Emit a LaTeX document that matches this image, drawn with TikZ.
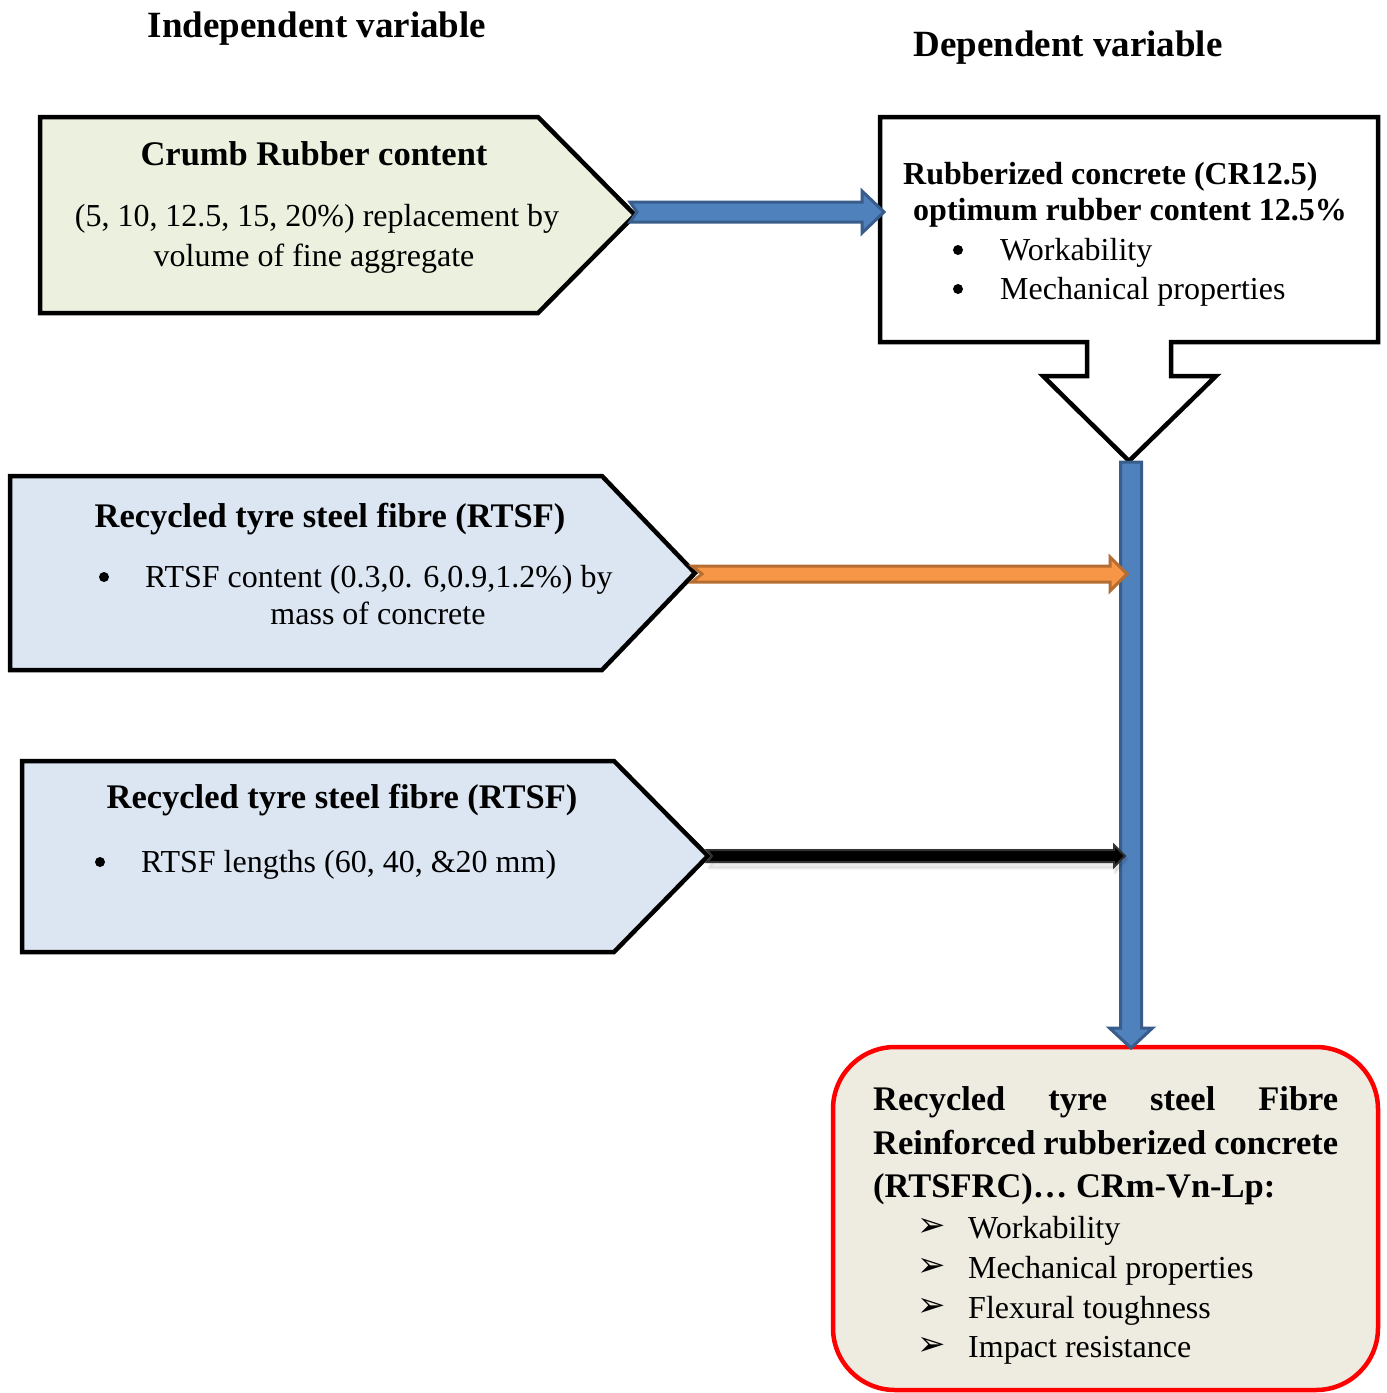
\documentclass[tikz,border=0pt]{standalone}
\usepackage{fontspec}
\setmainfont{Liberation Serif}
\newfontfamily\dejavu{DejaVu Sans}
\usetikzlibrary{calc}
\definecolor{boxgreen}{HTML}{EBF1DE}
\definecolor{boxblue}{HTML}{DCE6F2}
\definecolor{boxtan}{HTML}{EEECE1}
\definecolor{arrblue}{HTML}{4F81BD}
\definecolor{arrbluedk}{HTML}{385D8A}
\definecolor{arrorange}{HTML}{F79646}
\definecolor{arrorangedk}{HTML}{B66D31}
% horizontal block arrow: start, end, shaft half width, head half width, head length, notch, style
\newcommand\harrow[7]{\draw[#7] ($(#1)+(0,-#3)$) -- ($(#2)+(-#5,-#3)$) -- ($(#2)+(-#5,-#4)$) -- (#2) -- ($(#2)+(-#5,#4)$) -- ($(#2)+(-#5,#3)$) -- ($(#1)+(0,#3)$) -- ($(#1)+(#6,0)$) -- cycle;}
% vertical (downward) block arrow
\newcommand\varrow[6]{\draw[#6] ($(#1)+(-#3,0)$) -- ($(#2)+(-#3,-#5)$) -- ($(#2)+(-#4,-#5)$) -- (#2) -- ($(#2)+(#4,-#5)$) -- ($(#2)+(#3,-#5)$) -- ($(#1)+(#3,0)$) -- cycle;}
\begin{document}
\begin{tikzpicture}[x=1pt,y=-1pt,
  shapebox/.style={draw=black,line width=4.5pt,line join=miter},
  txt/.style={inner sep=0pt,font=\fontsize{32}{40}\selectfont},
  headtxt/.style={inner sep=0pt,font=\fontsize{34.5}{44}\selectfont\bfseries},
  subhead/.style={inner sep=0pt,font=\fontsize{32}{40}\selectfont\bfseries},
  titletxt/.style={inner sep=0pt,font=\fontsize{37}{44}\selectfont\bfseries},
  dotbullet/.style={circle,fill=black,inner sep=0pt,minimum size=10pt},
  arrbullet/.style={inner sep=0pt,font=\fontsize{34}{40}\dejavu},
  bluearrow/.style={fill=arrblue,draw=arrbluedk,line width=3pt,line join=miter},
  orangearrow/.style={fill=arrorange,draw=arrorangedk,line width=3pt,line join=miter},
  blackarrow/.style={fill=black,draw=black!80,line width=2pt,line join=miter},
  shadowarrow/.style={fill=black,opacity=0.08,draw=black,draw opacity=0.06,line width=3pt,line join=round}]
\useasboundingbox (0,0) rectangle (1387,1393);
\fill[white] (0,0) rectangle (1387,1393);

% titles
\node[titletxt,anchor=base] (tIndep) at (317,37) {Independent variable};
\node[titletxt,anchor=base] (tDep) at (1068,56) {Dependent variable};

% box 1: crumb rubber
\draw[shapebox,fill=boxgreen] (40,117) -- (538,117) -- (635,215) -- (538,313) -- (40,313) -- cycle;
\node[headtxt,anchor=base] (cr1) at (314,165) {Crumb Rubber content};
\node[txt,anchor=base] (cr2) at (317,226) {(5, 10, 12.5, 15, 20\%) replacement by};
\node[txt,anchor=base] (cr3) at (314,266) {volume of fine aggregate};

% box 2: rubberized concrete with down-arrow callout
\draw[shapebox,fill=white] (880,117) -- (1378,117) -- (1378,342) -- (1171,342) -- (1171,376) -- (1216,376) -- (1129,461) -- (1043,376) -- (1087,376) -- (1087,342) -- (880,342) -- cycle;
\node[subhead,anchor=base west] (rc1) at (903,184) {Rubberized concrete (CR12.5)};
\node[subhead,anchor=base west] (rc2) at (913,220) {optimum rubber content 12.5\%};
\node[dotbullet] (rcb1) at (958,250) {};
\node[txt,anchor=base west] (rc3) at (1000,260) {Workability};
\node[dotbullet] (rcb2) at (958,289) {};
\node[txt,anchor=base west] (rc4) at (1000,299) {Mechanical properties};

% box 3: RTSF content
\draw[shapebox,fill=boxblue] (10,476) -- (602,476) -- (695,573) -- (602,670) -- (10,670) -- cycle;
\node[headtxt,anchor=base] (fc1) at (330,527) {Recycled tyre steel fibre (RTSF)};
\node[dotbullet] (fcb) at (104,577) {};
\node[txt,anchor=base west] (fc2) at (145,587) {RTSF content (0.3,0. 6,0.9,1.2\%) by};
\node[txt,anchor=base] (fc3) at (378,624) {mass of concrete};

% box 4: RTSF lengths
\draw[shapebox,fill=boxblue] (22,761) -- (614,761) -- (708,856) -- (614,952) -- (22,952) -- cycle;
\node[headtxt,anchor=base] (fl1) at (342,808) {Recycled tyre steel fibre (RTSF)};
\node[dotbullet] (flb) at (100,862) {};
\node[txt,anchor=base west] (fl2) at (141,872) {RTSF lengths (60, 40, \&20 mm)};

% box 5: RTSFRC
\draw[draw=red,line width=4.5pt,fill=boxtan,rounded corners=62pt] (833,1047) rectangle (1378,1390);
\node[headtxt,anchor=base west] (rf1) at (873,1110) {\makebox[465pt][s]{Recycled\hfill tyre\hfill steel\hfill Fibre}};
\node[headtxt,anchor=base west] (rf2) at (873,1154) {\makebox[465pt][s]{Reinforced\hfill rubberized\hfill concrete}};
\node[headtxt,anchor=base west] (rf3) at (873,1197) {(RTSFRC)… CRm-Vn-Lp:};
\node[arrbullet] (rfb1) at (932,1227) {➢};
\node[txt,anchor=base west] (rf4) at (968,1238) {Workability};
\node[arrbullet] (rfb2) at (932,1267) {➢};
\node[txt,anchor=base west] (rf5) at (968,1278) {Mechanical properties};
\node[arrbullet] (rfb3) at (932,1307) {➢};
\node[txt,anchor=base west] (rf6) at (968,1318) {Flexural toughness};
\node[arrbullet] (rfb4) at (932,1346) {➢};
\node[txt,anchor=base west] (rf7) at (968,1357) {Impact resistance};

% connector end points
\coordinate (crOut) at (630,212);
\coordinate (rcIn) at (884,212);
\coordinate (rcOut) at (1131,462);
\coordinate (rfIn) at (1131,1048);
\coordinate (fcOut) at (692,574);
\coordinate (fcIn) at (1127,574);
\coordinate (flOut) at (707,856);
\coordinate (flIn) at (1125,856);
\coordinate (flOutS) at (709,859);
\coordinate (flInS) at (1127,859);

% connectors
\harrow{crOut}{rcIn}{10}{21}{22}{7}{bluearrow}
\varrow{rcOut}{rfIn}{10.5}{21.5}{20}{bluearrow}
\harrow{fcOut}{fcIn}{8}{17}{17}{10}{orangearrow}
\harrow{flOutS}{flInS}{9}{14}{12}{5}{shadowarrow}
\harrow{flOut}{flIn}{6}{11}{11}{5}{blackarrow}
\end{tikzpicture}
\end{document}
